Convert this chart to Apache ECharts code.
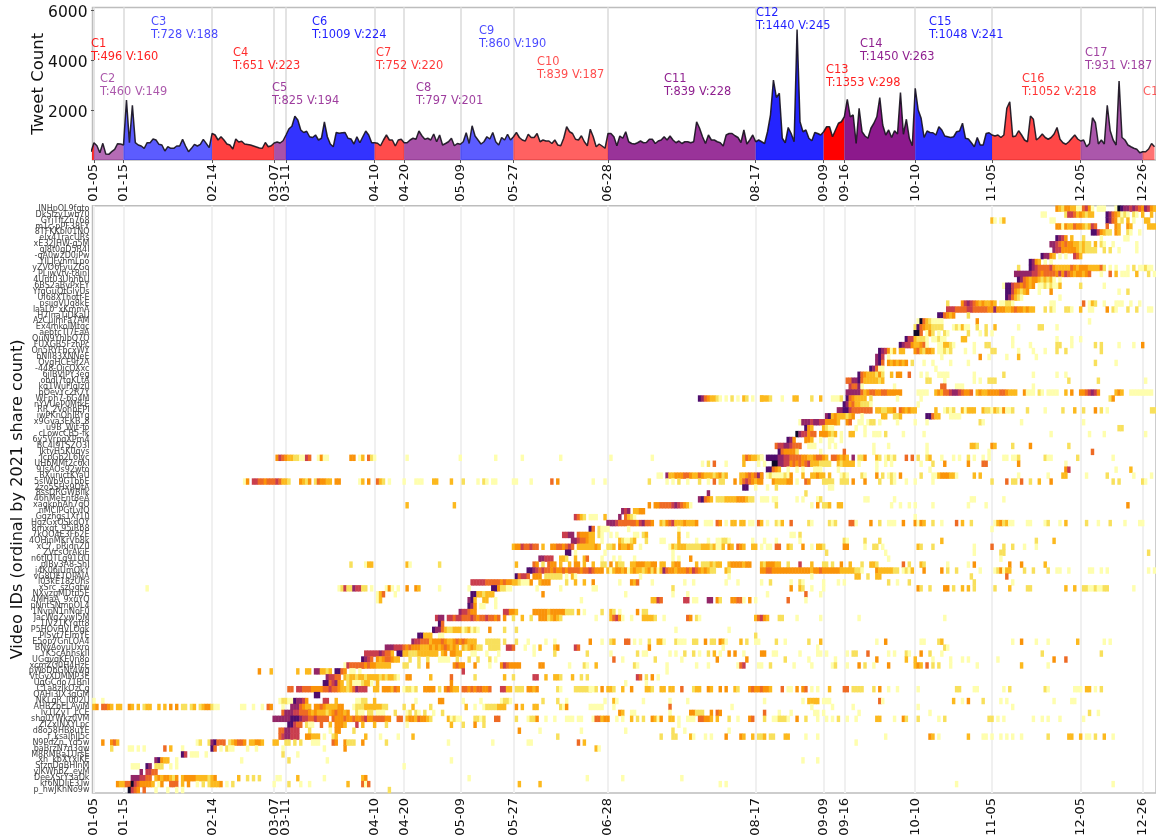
<!DOCTYPE html>
<html>
<head>
<meta charset="utf-8">
<title>Tweet clusters and video shares</title>
<script src="https://cdn.jsdelivr.net/npm/echarts@6/dist/echarts.min.js"></script>
<style>
  html, body { margin: 0; background: #fff; overflow: hidden; }
  #chart { width: 1156px; height: 837px; }
</style>
</head>
<body>
<div id="chart"></div>
<script>
// Cluster start days (offset from 01-05) and their tick labels
const tickDays = [0, 10, 40, 61, 65, 95, 105, 124, 142, 174, 224, 247, 254, 278, 304, 334, 355]
const tickLabels = ['01-05', '01-15', '02-14', '03-07', '03-11', '04-10', '04-20', '05-09', '05-27',
  '06-28', '08-17', '09-09', '09-16', '10-10', '11-05', '12-05', '12-26']

// Cluster annotations
const clusterNames = ['C1', 'C2', 'C3', 'C4', 'C5', 'C6', 'C7', 'C8', 'C9', 'C10', 'C11', 'C12', 'C13', 'C14', 'C15', 'C16', 'C17', 'C18']
const clusterTweets = [496, 460, 728, 651, 825, 1009, 752, 797, 860, 839, 839, 1440, 1353, 1450, 1048, 1052, 931, null]
const clusterVideos = [160, 149, 188, 223, 194, 224, 220, 201, 190, 187, 228, 245, 298, 263, 241, 218, 187, null]
const clusterStarts = [-1, 0, 10, 40, 61, 65, 95, 105, 124, 142, 174, 224, 247, 254, 278, 304, 334, 355]

// Daily tweet count, first entry is the day before 01-05
const dailyTweets = [330,
  690, 573, 293, 666, 240, 227, 333, 426, 653, 640,
  600, 2400, 693, 2190, 693, 600, 560, 466, 693, 693,
  840, 800, 626, 600, 360, 533, 466, 466, 560, 560,
  826, 560, 333, 466, 626, 560, 626, 826, 666, 493,
  1066, 1000, 800, 933, 800, 640, 600, 440, 840, 720,
  750, 640, 620, 600, 560, 520, 480, 470, 700, 530,
  570, 680, 720, 680, 770, 1000, 1250, 1350, 1750, 1600,
  1200, 1100, 1150, 930, 900, 1000, 800, 870, 1520, 930,
  640, 530, 1100, 1070, 1090, 1100, 870, 840, 640, 930,
  690, 930, 1160, 1000, 690, 690, 670, 570, 800, 1000,
  800, 800, 560, 800, 830, 690, 690, 800, 870, 830,
  1160, 970, 830, 870, 800, 1040, 730, 1000, 600, 660,
  730, 870, 570, 660, 630, 730, 1090, 660, 1370, 960,
  800, 640, 730, 930, 840, 1100, 730, 600, 900, 800,
  1030, 800, 930, 1100, 900, 800, 760, 1030, 900, 900,
  1060, 730, 800, 760, 760, 660, 800, 600, 570, 870,
  1330, 1130, 1060, 830, 800, 970, 730, 570, 1230, 930,
  530, 640, 560, 470, 1060, 1060, 930, 570, 960, 870,
  1130, 730, 660, 640, 690, 760, 690, 700, 830, 830,
  660, 760, 800, 930, 800, 960, 800, 690, 760, 660,
  730, 730, 690, 730, 1530, 1270, 930, 660, 1000, 800,
  800, 730, 690, 560, 1000, 1060, 1060, 970, 900, 700,
  1200, 640, 800, 1000, 730, 800, 730, 660, 1130, 1800,
  3200, 2500, 2670, 870, 690, 1300, 1060, 730, 5220, 1530,
  1130, 1200, 870, 770, 1100, 1060, 1000, 1130, 1330, 1330,
  930, 1200, 1470, 1530, 1730, 2430, 1730, 1800, 660, 2070,
  1130, 960, 870, 1270, 1470, 1730, 2500, 1400, 1000, 1200,
  900, 1170, 1040, 2700, 1030, 1630, 870, 570, 2870, 2000,
  1670, 900, 1160, 1100, 1090, 1000, 1330, 1200, 960, 930,
  900, 930, 1130, 1160, 1470, 870, 840, 690, 530, 900,
  600, 600, 1060, 1090, 1000, 960, 1000, 900, 1000, 2070,
  2330, 930, 960, 1170, 1000, 800, 730, 1760, 1630, 800,
  900, 1040, 900, 830, 900, 1040, 1300, 830, 690, 630,
  730, 870, 1000, 840, 760, 800, 530, 660, 1690, 1490,
  640, 800, 640, 2190, 1170, 800, 600, 3160, 900, 800,
  600, 530, 470, 430, 290, 330, 330, 440, 660, 530]

// Video ids, top row first
const videoIds = ['INHpOL9fgto', 'DkSlzy1wb70', 'GYjTIfZn768', 'm1c-pPF38FY', '8TFKKbl01NQ', 'elx41racURs', 'xE32JHW-g5M',
  'gl8t0gD5R4I', '-qA0w2D0iPw', 'YILJFyhmLpo', 'yZVO6FyuZGo', 'PLjwVfv-t8jnI', '4Unt03UhhbU', '6BS2aBvPxEY', 'YfgGuQtGlyUs',
  'Ul68XThotf-E', 'psijgVUq8kE', 'laaL0_xKmmA', 'H7lnaTiDKaU', 'AzCujmFa7AM', 'Ex4mkolMtqc', 'aebtcTI7EaA', 'QuN9YhlbQ7Q',
  'FUXGB5FzhPc', 'On5RYFbcxWY', 'bNlI83XNNeE', 'OvgHCE9f2A', '-448-OjcOXxc', '6jlBVjPY3eg', 'obdI7tgKLtA', 'kq1WuFlgIz0',
  'bOevYc2R7Y', 'WFph7-6G4M', 'nYVUeP0MfkE', 'RR_2VohbEPI', 'iwPKnOhIRYg', 'x9Gva3EKB_8', 'u9B_Wjt-To', 'cLowcCB5-fk',
  '6y5VrpqXPm4', 'BC4I9TSZO3I', 'JktyH5K0qys', 'JcpGb2L6lyc', 'UHbMMf2c6kI', '9TsAOs92wto', 'BXunictKYaU', '5slWb9GTbbE',
  '2zo5SHx9OtA', '8ssDRGWBllk', '46hMeEnt8eA', 'xagkphAh7qO', 'nMCIPGfLyIQ', 'Ggzhgs1Xr10', 'HgzGxOSkdQY', '8mxqt_95iRb8',
  '7kQO4E3F62E', '4OHjnMKrVb8k', 'xC7_pRjdnZ0', 'ZVcsOrAkjE', 'n6tJOTLg91GU', 'pIBy3A8-ShI', 'j4K06jUmOkY', 'vG8DETOPAIA',
  'l03kE18zUhs', 'xSrc_szGqtw', 'NXyzpMDtp5E', '4MHaA_9xuYQ', 'pNntSNmpOL4', '1NvpN1nNoF0', 'JacWgZywI5M', '1IV21KYgtt8',
  'P5HOvHVLOgk', 'PlSyt7EImYE', 'E5op7GnLOA4', 'BNyAoyuUxro', 'YK5cAhhskII', 'UGgvgKE0n8o', 'xcmZG0H4HzE', 'pWoDbGNt4wg',
  'VtGyXDMMP3E', 'UgGCdo71BnI', 'C1a8zIkOzCg', 'QAHi3IX3gGM', 'NKLgR_I002U', 'AHBZbELAyiM', 'Iv1IZyT_LCE', 'shg0YWkz0VM',
  'ZIZxINXYLpc', 'd8o58HB8uYE', 'f_ksalhIJ5c', 'N9PdZn_Yd5w', 'baBrzN7d3gw', 'M8RMBa1UrsE', 'xh_kbXYxiKE', 'SfznDgBHInM',
  'ylKWhbZ_eyM', 'DeeXSrY3aDk', 'kf6NDIiE3Tw', 'p_hwJKhNo9w']

// Share intensity per video: "startColumn:levels", level 1 (pale) to 9 (dark), '.' = no shares
const heatRows = [
  '326:4324433115641.111...19877676547643',
  '321:11 329:2665343233 343:87543121.21.3..3',
  '304:31.13 324:11 343:875412.3.1...33',
  '326:441433544323 338:65 343:5 346:43 350:43 357:333',
  '338:8864322.43..21..1',
  '326:8764.3...2.....1.......11',
  '324:77654544332322.3.21..1.......1',
  '325:766444443232222..2.2..1.....1',
  '321:87743.1.1..653',
  '317:8743.1.1',
  '313:2...87655556433333543444333352.1.1...1.2.11211',
  '312:77777766545555464654344345 341:1 344:5 346:3 348:11 350:1 353:3 357:2 359:1',
  '313:8754344323231.1',
  '308:18865545434 320:11212113 334:2 342:1',
  '309:88643234 320:1 324:4 347:1 350:2',
  '309:875321 327:1',
  '289:2 294:46 296:7654343343 307:11221 324:11 335:5 337:132 342:1 346:111 351:1 354:1',
  '289:6665555665555544 305:744433454434 317:33 322:2 324:21 329:221 334:3 337:11 343:4 345:21 350:2 353:2 357:11',
  '286:885434 296:2',
  '279:19 281:5321111 299:4 337:1',
  '278:28 280:54332222 291:121311 299:2 302:2 305:3 313:1 320:22 326:1',
  '278:99 280:5.142.1.21 296:2 300:1 302:2 304:1',
  '275:866 278:32221 284:11211 294:33 311:1 326:1 331:1 334:1',
  '273:8766 277:433451 286:113321 298:1 302:22 311:1 317:1 326:22 331:1 339:2 341:2 347:1 352:1 355:4',
  '266:8 267:76 269:413 273:33 278:4532443 286:11212 295:1 298:1 304:22 313:1 318:1 322:1 326:2 329:2 341:2',
  '265:786 269:1 287:1 300:4 303:1 309:1 313:3 319:1',
  '265:785 269:4343434 277:2 281:1 284:1 290:1 296:1 339:2 346:1',
  '263:8751 267:1 285:1',
  '259:854333242 270:3 272:44 276:5 280:1 282:1 286:1 287:111 298:1 308:2 318:1 326:1 329:1',
  '255:55 257:778 260:53333323 282:22 288:1 298:1 300:1 303:222 330:2 340:2 356:1',
  '256:6557 260:1 271:1 287:55 292:111 318:1',
  '255:7777753455445544444 279:1111 285:3435567765445 299:34334444554333 315:4111 320:21 323:1111 329:3 331:4 334:4456764 346:343 351:11111111',
  '205:87543321.1.2.1.32.1..3 226:3332 233:1 237:33 243:2 246:3 250:1112 255:8543333 263:2 272:1 280:1 344:24',
  '254:8745 258:332221 279:1',
  '252:778865555555 265:3322334 273:543433 285:3 288:1212 294:31333 301:3221 305:3214112 316:2 322:1 328:2 332:3 335:2 339:4 341:2 343:1 358:22',
  '248:78 250:3433 254:3234 260:1 267:33 271:223 282:88 284:533 290:1111',
  '239:1 240:77767766 248:44443 255:45 259:11 262:122 266:1 272:1 278:1 282:1 300:21 314:1 335:1',
  '241:843 247:3211 258:1 261:1 347:22',
  '238:976645 244:5 246:444323 253:1 256:33 261:1 264:111 268:2 274:1 281:1 324:1 337:1 342:1 356:1',
  '235:874 241:443 246:1 249:11 253:1',
  '231:566 234:776 237:555 242:111 249:1 251:1 264:1 269:1 282:1 297:332 304:43 311:2 317:4 330:2',
  '232:8 233:544442 246:1 254:5 264:1 282:1 303:1 338:5',
  '62:4654332211 72:65 76:141 79:1 87:44 90:13 93:521 106:1 124:1 136:1 145:1 158:1 175:1 189:1 220:3 221:543322 226:1 228:8888 232:77665555443345543 250:554343 257:7 259:224 265:32 268:1212 275:5.5 279:2 282:23 287:1 291:1 293:1 296:2 298:1 301:1 303:1 308:11 311:112 322:2 323:11 333:2 345:1',
  '206:1 208:2 210:5 214:1 220:3 225:1 227:1 230:99 232:7766 236:4545456 243:333222 249:2 252:323333 259:1 265:1 268:1 270:1 280:1 284:2 288:4 296:4 301:55 313:4 329:1',
  '228:88 230:543 235:1 238:1 240:1 244:111 252:1 265:1 283:1 329:46 346:1 351:3',
  '191:11 194:7 195:33444554335433323423 219:33454576 226:4 228:12111121 236:4 240:3 243:33433 249:3 253:121 260:21 265:4 267:2 269:121 273:4 280:2 284:113444331 298:3 300:3 313:1 323:1 328:33 336:1 343:2 352:1 358:1',
  '51:14 54:6655455565332 70:4324 75:254433 82:44 90:13.4 96:532 100:1 105:1 109:111 115:33 121:3 125:2 130:1 132:21 135:1 136:1 142:11 148:1 155:5 157:4 169:1 173:1 188:2 194:1 196:1 198:2 201:1 205:2 208:1 210:5 212:22 217:4 219:3565434 226:4 230:4333344 238:1 241:54 247:2222 253:222 257:4 261:4 266:2 270:21 275:1 278:1 284:1 304:2 309:5 311:22 314:5 317:2 320:3 324:4 345:2 347:2 355:21',
  '220:88 224:1 228:1 231:2 249:11',
  '208:7 241:2',
  '205:78 207:543 211:2223333444322 226:111 230:11 238:1 240:1 245:12 261:11 271:1 297:11 308:1',
  '106:3 122:3 188:4 190:445555676543 202:1 231:2 243:1 245:4 247:223 252:33 270:1 273:1 276:1 278:1 284:1 296:1 302:1 350:4',
  '179:767 183:3344',
  '163:65 165:32 168:111 173:3 178:7 180:5321 278:1',
  '174:777 177:6555555467554 192:3245633343334 207:111.54.1.33.33.11.5 226:3 228:1 231:213 236:5 242:21 249:212 256:55 258:1 263:4 266:2 269:111 274:4 278:4 279:143 284:2 287:1 292:5 294:3 297:2 305:1342311 316:11 322:1 323:2 327:1 329:3 336:2 340:1 344:2 349:1 354:1 355:1',
  '168:85 171:2111 181:1 198:1 304:1',
  '159:6677 164:544433 171:21 175:1 177:1 183:11.23 198:3 201:1 236:11 239:2',
  '162:77 164:655433 172:1 178:321123 187:2 192:1 193:1 198:3 204:1 208:1 211:11221 223:1 227:1 231:1 239:1 254:21 261:2 266:2 287:3 319:2 325:3',
  '142:34 144:4655655 152:3 155:4455456 162:5 164:333333 170:43 174:223 178:43343 185:1 195:1323332222233323113.43.543..33 226:1 228:11 231:55 235:32 240:4 243:1 245:332 254:44 261:1 264:22 267:1 279:32 284:2 298:1 304:5 308:2 311:2 315:1 319:1',
  '160:88 163:1 173:1 196:1 248:2 268:1 298:1 307:22 357:2',
  '151:77 153:666 158:332 163:3 166:3 167:5 172:1 176:1 178:1 183:1 196:1 198:1 202:4 269:1 307:1',
  '87:2 92:133 106:31 117:2 143:3 149:54 152:2 154:544 158:3 161:3 163:44 166:3 169:3 172:22 175:4 177:322 182:334443344 192:33 196:344 204:3 206:2223233 215:34444344 226:3244433 235:2 239:6 243:3 247:22 250:2 253:4 256:3 260:2 263:332 274:5 276:2 280:32 289:1 296:1 298:4 310:4 314:4 322:3',
  '147:88 149:765655454454555545565444 174:3134434134332342413 193:754434445465434322 214:32 226:44554444444444444344544444433333 258:221 265:43333322 274:1213 281:4 287:4 289:2 292:2 300:1 305:124133 315:2 318:2 323:2 326:11 330:1 337:11 341:1 343:1 357:1 359:1',
  '143:8 144:566 147:5 149:444 153:222222 160:1 162:31 185:1 215:1 243:1 258:33 262:2 265:33 297:2 309:5',
  '128:6666 132:65555545443 143:32111 148:4 151:3 152:444 160:2 163:3 166:3 169:4 178:1 182:435 189:1 200:1 203:1 214:1 218:1 226:1 229:2 236:1 239:21 247:1 252:1 254:1 269:2 272:1 276:2 298:2 311:1',
  '18:1 83:1262276622 94:1 99:141.1 106:4 109:43 117:1 127:1 135:88 137:42211 150:1 158:1 169:11 196:2 236:4 239:32 243:1 247:1 279:4 280:2 283:2 288:44 291:2 294:3 296:3 298:2 305:2 310:3 316:22 329:3 332:3 335:221121122 352:1',
  '96:13 98:5 102:1 128:88 130:332333 152:4 180:1 196:1 201:1 228:1 241:5 246:1',
  '96:13 127:783 132:33 136:1 165:1 189:3365 200:66 203:11 208:77 211:42 216:44551 222:4 224:1 235:5 241:1',
  '127:874 131:11 136:1',
  '124:766544 139:66 141:443 149:4444434444422 162:2 164:3 166:1 172:2 175:32 178:1 184:4 186:22',
  '116:677 120:665665556545565545 139:4 142:2 145:3 148:2 151:44423432 170:1 175:3564 179:1 182:1 186:33332 193:1 201:54 204:2 205:1 224:35643 232:22 238:1 246:1 259:1 288:1',
  '117:85',
  '115:87 117:7532 121:2333123121 134:4 139:2 143:2 197:1 215:1',
  '110:88 112:333 117:11 224:2',
  '108:766555 114:34445433 122:45454333 133:22222 139:2 143:2 147:1 153:1 156:1 168:4 172:1 175:23 180:55 183:1 185:1 188:2 191:331 197:2 198:111 203:22 207:4 209:22 212:4 213:31 219:3 221:2 224:11 231:2 234:1 242:2 246:3 265:1 268:4 280:11 286:23 311:1 314:4 319:1 323:1 333:3 342:1 344:1',
  '99:7776 103:6654544433343 116:43454343 125:3234322 134:2222 140:665 146:1 149:1 151:3 156:34 163:65 188:4 213:1 245:1 288:21',
  '92:6666676 99:553 103:88 105:3322233333 115:33 118:34 121:4433 128:11 133:1 137:1 149:1 156:2 167:2 175:1 184:2 186:11 195:1 197:1 200:2 203:2 205:1 208:2 210:3 212:1 215:4 217:4 220:1 226:44 230:11 239:1 245:11 248:1 255:1 257:22 262:5 269:1 271:1 275:21 280:4 283:2 287:1 321:2 341:2',
  '91:8765 96:43455433 107:2 110:2 113:2 117:1111 123:2 127:2 130:2 134:2 136:1 176:5 179:1 190:2 199:1 211:4 221:4 234:2 242:1 251:1 265:4 275:3 278:3 284:1 290:1 294:1 296:1 306:1 325:4 329:5',
  '85:1 86:655555 91:5454433333 105:22 110:2 113:4 122:4544 129:4 134:1 138:4654444 151:44 161:1 166:21 170:3 183:21 194:1 204:1 208:1 218:156 225:11 229:2 237:1 243:1 250:12 255:1 259:4 261:2 264:1 269:4 278:343.5 284:2 286:2 290:1 299:1 314:3 323:1',
  '56:4 60:3 69:3 72:33 75:77 77:3323 82:88 84:54 87:11.1 125:6 194:1',
  '79:76655 85:3233 89:233233332 98:323321 106:44 114:3 121:5 129:2 139:3 142:2 149:66 153:3 156:332 162:3 165:2 167:2 184:65 187:2 189:4 191:1',
  '78:88 80:567 83:43 86:231112331 96:3 121:4 180:1 187:1',
  '66:55 69:665554444 78:55655 83:43323576 91:66 95:33 98:444354 105:12212 112:4444 117:2 119:454 122:33 125:5545455445 138:66 140:33 143:222 147:4434 157:21 163:222222 168:112 172:4 174:332 179:3 182:4 187:332 192:33 195:33 199:5 203:233 208:43 212:4 214:4 217:32 222:45445443 233:5 235:11 238:4 240:45 243:1 245:1 249:3 254:55 257:2222 264:2 266:4 269:1 272:1 279:1 292:22 298:11 308:1 310:2 322:21 332:111 336:33 339:1 341:2',
  '75:88',
  '0:1 3:1 63:12211 68:877 71:64 78:66 82:3 89:1122 95:3 109:1 117:44 125:1 131:1 138:1221 152:2 157:2 160:1 173:1 176:31 186:1 195:1 201:1 227:1 240:1 242:3333 247:111 266:51 291:3 294:1 296:4 301:2 307:1 309:1 325:1 331:11',
  '0:34.5543.33..43.3.2330.3.3.4.4.22.23 36:2344211 50:1 51:1 54:1 57:1 59:54 64:1 67:777 70:5433 75:44543333 83:44 88:122233333322 105:2 108:3 114:2 126:3 129:1 132:12222333 143:4 145:3 149:33 158:214 168:11111 176:1 195:5 216:1 243:1 250:1 257:1 279:1 311:1',
  '64:5777 68:665556 73:43433323454434 89:211 93:22 96:111 102:2 106:1 107:2 109:21 112:2 115:1 118:2 178:43 182:11 195:1 202:442 205:22 209:4 211:54 227:5 232:1 236:1 244:11 247:1 259:1 283:1 337:2 340:1',
  '61:777777 67:888 70:7665565555 81:54445 86:445445644555544 103:55 106:344354432 120:31211 129:2212 136:55 143:2 147:1224 153:1 156:1 160:111.11 169:155344 177:1 179:1 182:3 184:2 186:2 189:43 191:14 195:33 198:1 201:111 205:55443 211:3 215:2 218:1 222:45 227:2 230:112221 238:4 241:2 245:1 248:1 250:1 252:2 255:1 258:1 265:33 271:1 274:4 275:2 279:2 286:1 288:2 303:22 306:1 308:1 318:1 321:1 323:1 327:1 335:1',
  '66:88 68:655 72:211 77:5 80:3 82:4443 89:6 91:3 95:3 99:2 106:1 121:3 125:2 129:4 132:2 198:1',
  '63:557 66:7666 73:2 80:1 82:44 88:2 144:4 151:1 165:1 180:1 196:2 200:1 215:1',
  '63:56 65:77666 72:44333 78:1 81:23 92:3 97:1 103:1 108:3 157:2 192:2 196:22 202:3 203:1 207:1 209:1 214:4 219:43 223:3 225:223 229:22 234:33 241:1 245:1 268:1 283:43 286:1 296:3 301:11 304:1 307:1 309:1 311:1 314:1 323:2 330:33 334:3 336:1 337:1 339:2 342:3 345:1',
  '3:4 6:453 35:12 39:2 40:78 42:555 46:23 48:4554 53:33443 61:33 65:22 68:2 70:2 74:111 81:54 85:4 86:222 91:4 99:2 120:1 135:1 147:11 164:5 166:3 258:1',
  '6:2 12:11 15:1 17:1 24:5 26:3 30:1 40:85 43:1 45:211 52:1 55:1 64:1 78:1 85:4 170:3 171:1',
  '30:86 33:111 38:1 64:2 69:1',
  '21:78 23:43 25:3 28:1 50:1 66:2 79:1 121:1 240:1 245:1',
  '13:111 18:87 21:222 26:1 28:1 105:1',
  '16:7 18:6655',
  '13:77 15:76655 21:343443 27:24.344443333234 49:3 52:2 54:2 56:2 62:11 69:3 78:1 91:34 127:1 167:1 179:1 199:1',
  '8:433 11:55 13:9 14:6544 18:443 22:1 23:4 26:555 30:3 32:4 35:1 37:2 39:23334 45:1 47:2 61:1 66:2 70:1 73:1 86:3 91:515 144:3 151:3 212:1 214:1 292:1 345:1',
  '12:9 13:654 17:5 21:1 25:1 28:1 30:1 100:2'
]

// Level colours, pale to dark
const heatColors = ['#fefeae', '#f8e05c', '#fcb91e', '#fa9309', '#ee6a24', '#c93e4d', '#932667', '#4f0d6c', '#0d0829']

// Family colour and strength per cluster, area and text share them
const clusterColors = ['#ff0000', '#800080', '#0000ff', '#ff0000', '#800080', '#0000ff', '#ff0000', '#800080', '#0000ff',
  '#ff0000', '#800080', '#0000ff', '#ff0000', '#800080', '#0000ff', '#ff0000', '#800080', '#ff0000']
const clusterAlpha = [0.8, 0.58, 0.64, 0.75, 0.68, 0.8, 0.7, 0.68, 0.64, 0.62, 0.8, 0.86, 1, 0.9, 0.82, 0.72, 0.66, 0.55]
const annotationLeft = [91, 100, 151, 233, 272, 312, 376, 416, 479, 537, 664, 756, 826, 860, 929, 1022, 1085, 1143]
const annotationTop = [38, 73, 16, 47, 82, 16, 47, 82, 25, 56, 73, 7, 64, 38, 16, 73, 47, 86]

const FONT = '"DejaVu Sans", sans-serif'
const COL_COUNT = 360

function heatData() {
  const cells = []
  heatRows.forEach((row, rowIdx) => {
    row.split(' ').forEach(part => {
      const [start, levels] = part.split(':')
      for (let i = 0; i < levels.length; i++) {
        const col = Number(start) + i
        if (levels[i] !== '.' && levels[i] !== '0' && col < COL_COUNT) cells.push([col, rowIdx, Number(levels[i])])
      }
    })
  })
  return cells
}

function clusterSeries() {
  return clusterStarts.map((start, i) => {
    const end = i + 1 < clusterStarts.length ? clusterStarts[i + 1] : COL_COUNT - 1
    const data = []
    for (let d = start; d <= end; d++) data.push([d, dailyTweets[d + 1]])
    return {
      type: 'line',
      xAxisIndex: 0,
      yAxisIndex: 0,
      data,
      symbol: 'none',
      silent: true,
      lineStyle: { width: 0 },
      areaStyle: { color: clusterColors[i], opacity: clusterAlpha[i] },
      z: 2
    }
  })
}

function annotations() {
  return clusterNames.map((name, i) => ({
    type: 'text',
    left: annotationLeft[i],
    top: annotationTop[i],
    z: 100,
    silent: true,
    style: {
      text: clusterTweets[i] === null ? name : `${name}\nT:${clusterTweets[i]} V:${clusterVideos[i]}`,
      fill: clusterColors[i],
      opacity: Math.min(clusterAlpha[i] + 0.08, 0.88),
      font: `11.4px ${FONT}`,
      lineHeight: 12.8
    }
  }))
}

const tickLabelFor = idx => tickLabels[tickDays.indexOf(idx)] || ''
const showTick = idx => tickDays.includes(idx)

const chart = echarts.init(document.getElementById('chart'), null, { renderer: 'canvas' })
chart.setOption({
  animation: false,
  backgroundColor: '#fff',
  textStyle: { fontFamily: FONT },
  grid: [
    { left: 92.5, top: 7.5, width: 1063.5, height: 152.5, show: true, borderColor: '#bdbdbd', borderWidth: 1.5, backgroundColor: 'transparent', outerBoundsMode: 'none' },
    { left: 92.5, top: 205.7, width: 1063.5, height: 587.3, show: true, borderColor: '#bdbdbd', borderWidth: 1.5, backgroundColor: 'transparent', outerBoundsMode: 'none' }
  ],
  xAxis: [
    {
      gridIndex: 0,
      type: 'value',
      min: -0.5,
      max: 359.5,
      axisLine: { show: false },
      axisTick: { customValues: tickDays, length: 3, lineStyle: { color: '#555' } },
      axisLabel: { customValues: tickDays, rotate: 90, fontSize: 13, color: '#111', margin: 4, formatter: v => tickLabelFor(v) },
      splitLine: { show: true, lineStyle: { color: '#e3e3e3', width: 2 } }
    },
    {
      gridIndex: 1,
      type: 'category',
      data: Array.from({ length: COL_COUNT }, (_, i) => i),
      boundaryGap: true,
      axisLine: { show: false },
      axisTick: { alignWithLabel: true, interval: showTick, length: 3, lineStyle: { color: '#555' } },
      axisLabel: { interval: showTick, rotate: 90, fontSize: 13, color: '#111', margin: 5, formatter: (v, idx) => tickLabelFor(idx) },
      splitLine: { show: true, alignWithLabel: true, interval: showTick, lineStyle: { color: '#f0f0f0', width: 2 } }
    }
  ],
  yAxis: [
    {
      gridIndex: 0,
      type: 'value',
      min: 0,
      max: 6100,
      name: 'Tweet Count',
      nameLocation: 'middle',
      nameGap: 45,
      nameMoveOverlap: false,
      nameTextStyle: { fontSize: 16.5, color: '#111' },
      axisLine: { show: false },
      axisTick: { show: true, customValues: [2000, 4000, 6000], length: 3, lineStyle: { color: '#555' } },
      axisLabel: { customValues: [2000, 4000, 6000], fontSize: 15.5, color: '#111', margin: 5, verticalAlign: 'top', lineHeight: 5, formatter: v => String(v) },
      splitLine: { show: false }
    },
    {
      gridIndex: 1,
      type: 'category',
      data: videoIds,
      inverse: true,
      boundaryGap: true,
      name: 'Video IDs (ordinal by 2021 share count)',
      nameLocation: 'middle',
      nameGap: 67,
      nameMoveOverlap: false,
      nameTextStyle: { fontSize: 16.1, color: '#111' },
      axisLine: { show: false },
      axisTick: { show: false },
      axisLabel: { interval: 0, fontSize: 8, color: '#444', margin: 3 },
      splitLine: { show: false }
    }
  ],
  visualMap: {
    show: false,
    type: 'continuous',
    seriesIndex: clusterStarts.length + 1,
    dimension: 2,
    min: 1,
    max: 9,
    inRange: { color: heatColors }
  },
  series: [
    ...clusterSeries(),
    {
      type: 'line',
      xAxisIndex: 0,
      yAxisIndex: 0,
      data: dailyTweets.map((v, i) => [i - 1, v]),
      symbol: 'none',
      silent: true,
      lineStyle: { color: '#15111c', width: 1.5, opacity: 0.9 },
      z: 3
    },
    {
      type: 'heatmap',
      xAxisIndex: 1,
      yAxisIndex: 1,
      data: heatData(),
      silent: true,
      progressive: 0,
      z: 2
    }
  ],
  graphic: { elements: annotations() }
})
window.addEventListener('resize', () => chart.resize())
</script>
</body>
</html>
